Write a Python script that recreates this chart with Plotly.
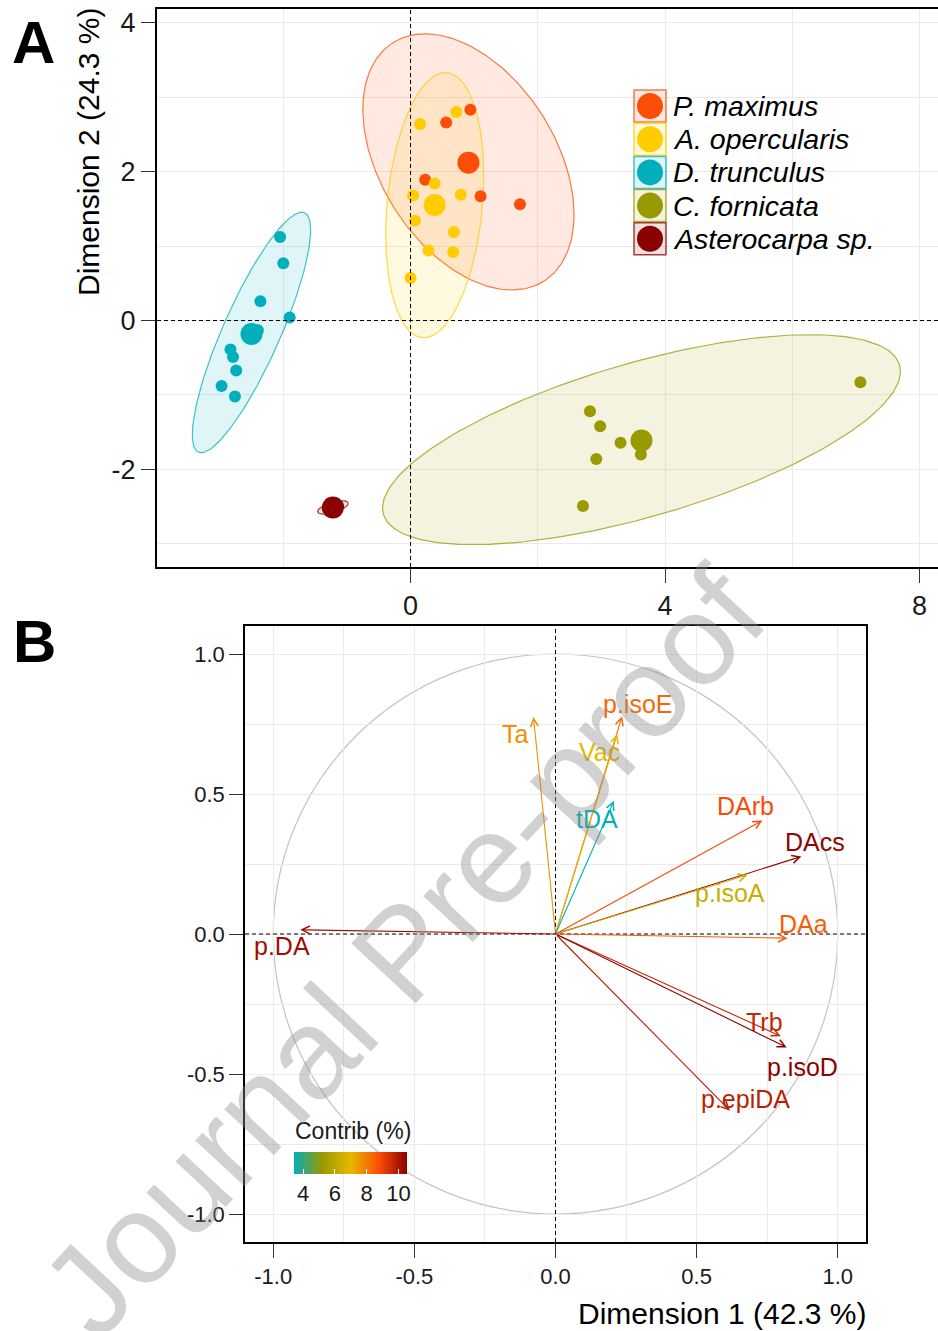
import numpy as np
import plotly.graph_objects as go
from plotly.colors import sample_colorscale

W, H = 938, 1331
FONT = "Liberation Sans, Arial, sans-serif"


def px(x):
    return x / W


def py(y):
    return 1 - y / H


# ---------------- Panel A data: individuals ----------------
groups = ["P. maximus", "A. opercularis", "D. trunculus", "C. fornicata", "Asterocarpa sp."]
group_colors = ["#FC4E07", "#FFCC00", "#00AFBB", "#999900", "#8B0000"]

pmax_x = [0.94, 0.56, 0.23, 1.10, 1.72]
pmax_y = [2.83, 2.66, 1.89, 1.67, 1.56]
aoper_x = [0.15, 0.72, 0.38, 0.04, 0.79, 0.07, 0.68, 0.28, 0.67, 0.00]
aoper_y = [2.64, 2.80, 1.84, 1.68, 1.69, 1.34, 1.19, 0.94, 0.92, 0.57]
dtrun_x = [-2.05, -2.00, -2.36, -1.90, -2.40, -2.83, -2.79, -2.74, -2.97, -2.76]
dtrun_y = [1.12, 0.77, 0.26, 0.04, -0.13, -0.39, -0.49, -0.67, -0.88, -1.02]
cforn_x = [2.82, 2.98, 3.30, 3.62, 2.92, 2.71, 7.07]
cforn_y = [-1.22, -1.42, -1.64, -1.80, -1.86, -2.49, -0.83]
aster_x = [-1.30, -1.25, -1.18, -1.14, -1.27, -1.20]
aster_y = [-2.52, -2.48, -2.50, -2.49, -2.56, -2.54]

centroid_x = [0.91, 0.38, -2.50, 3.63, -1.22]
centroid_y = [2.12, 1.55, -0.18, -1.61, -2.51]

# concentration ellipses: centre, x half-extent, y half-extent, correlation
ell_cx = [0.91, 0.38, -2.50, 3.63, -1.22]
ell_cy = [2.13, 1.55, -0.16, -1.60, -2.51]
ell_hw = [1.66, 0.77, 0.93, 4.07, 0.24]
ell_hh = [1.72, 1.78, 1.615, 1.41, 0.09]
ell_r = [-0.41, 0.22, 0.85, 0.65, 0.60]

A_xticks = [0, 4, 8]
A_yticks = [-2, 0, 2, 4]

# ---------------- Panel B data: variables ----------------
var_names = ["p.DA", "Ta", "p.isoE", "Vac", "tDA", "DArb", "DAcs", "p.isoA", "DAa", "Trb", "p.isoD", "p.epiDA"]
dim1 = [-0.904, -0.078, 0.236, 0.219, 0.207, 0.733, 0.871, 0.680, 0.822, 0.798, 0.819, 0.618]
dim2 = [0.015, 0.775, 0.778, 0.714, 0.476, 0.405, 0.277, 0.211, -0.015, -0.365, -0.405, -0.631]
contrib = [10.2, 7.6, 8.3, 7.0, 3.4, 8.8, 10.4, 6.3, 8.5, 9.6, 10.5, 9.8]

B_ticks = [-1.0, -0.5, 0.0, 0.5, 1.0]
B_ticktext = ["-1.0", "-0.5", "0.0", "0.5", "1.0"]
contrib_ticks = [4, 6, 8, 10]

# label offsets (pixels) from arrow tips
label_dx = [-18, -18, 15, -18, -17, -17, 14, -17, 16, -16, 16, 16]
label_dy = [-16, -17, 12, -18, -18, 15, 14, -18, 14, 14, -20, 12]

cscale = [[0, "#00AFBB"], [0.25, "#999900"], [0.5, "#E7B800"], [0.75, "#FC4E07"], [1, "#8B0000"]]


def rgba(hexc, a):
    hexc = hexc.lstrip("#")
    r, g, b = int(hexc[0:2], 16), int(hexc[2:4], 16), int(hexc[4:6], 16)
    return f"rgba({r},{g},{b},{a})"


fig = go.Figure()

# ellipses
t = np.linspace(0, 2 * np.pi, 241)
for i in range(len(groups)):
    ex = ell_cx[i] + ell_hw[i] * np.cos(t)
    ey = ell_cy[i] + ell_hh[i] * (ell_r[i] * np.cos(t) + np.sqrt(1 - ell_r[i] ** 2) * np.sin(t))
    fig.add_trace(go.Scatter(x=ex, y=ey, mode="lines", fill="toself",
                             fillcolor=rgba(group_colors[i], 0.12),
                             line=dict(color=rgba(group_colors[i], 0.75), width=1.2),
                             xaxis="x", yaxis="y", showlegend=False, hoverinfo="skip"))

ind_x = [pmax_x, aoper_x, dtrun_x, cforn_x, aster_x]
ind_y = [pmax_y, aoper_y, dtrun_y, cforn_y, aster_y]
for i in range(len(groups)):
    fig.add_trace(go.Scatter(x=ind_x[i], y=ind_y[i], mode="markers",
                             marker=dict(size=12, color=group_colors[i], line=dict(width=0)),
                             xaxis="x", yaxis="y", showlegend=False, name=groups[i]))
for i in range(len(groups)):
    fig.add_trace(go.Scatter(x=[centroid_x[i]], y=[centroid_y[i]], mode="markers",
                             marker=dict(size=22, color=group_colors[i], line=dict(width=0)),
                             xaxis="x", yaxis="y", showlegend=False, hoverinfo="skip"))

# colour bar carrier trace for panel B
cmin, cmax = min(contrib), max(contrib)
fig.add_trace(go.Scatter(
    x=dim1, y=dim2, mode="markers", xaxis="x2", yaxis="y2", showlegend=False, hoverinfo="skip",
    marker=dict(size=2, opacity=0, color=contrib, colorscale=cscale, cmin=cmin, cmax=cmax,
                showscale=True,
                colorbar=dict(orientation="h", x=px(350), xanchor="center", y=py(1152), yanchor="top",
                              len=113, lenmode="pixels", thickness=22, thicknessmode="pixels",
                              xpad=0, ypad=0, outlinewidth=0, tickvals=contrib_ticks,
                              ticks="inside", ticklen=5, tickcolor="white", tickwidth=1,
                              tickfont=dict(size=22, color="#1a1a1a", family=FONT)))))

arrow_colors = sample_colorscale(cscale, [(c - cmin) / (cmax - cmin) for c in contrib])

annotations = []
for i, name in enumerate(var_names):
    annotations.append(dict(x=dim1[i], y=dim2[i], xref="x2", yref="y2", ax=0, ay=0,
                            axref="x2", ayref="y2", text="", showarrow=True, arrowhead=5,
                            arrowsize=1.4, arrowwidth=1.1, arrowcolor=arrow_colors[i], standoff=0,
                            startstandoff=0))
    annotations.append(dict(x=dim1[i], y=dim2[i], xref="x2", yref="y2", text=name, showarrow=False,
                            xanchor="center", yanchor="middle",
                            xshift=label_dx[i], yshift=label_dy[i],
                            font=dict(size=25, color=arrow_colors[i], family=FONT)))

# manual legend for panel A
shapes = []
for i, g in enumerate(groups):
    cy = 106 + 33.2 * i
    shapes.append(dict(type="rect", xref="paper", yref="paper", x0=px(634), x1=px(666),
                       y0=py(cy + 16), y1=py(cy - 16), fillcolor=rgba(group_colors[i], 0.12),
                       line=dict(color=rgba(group_colors[i], 0.75), width=1.5), layer="above"))
    shapes.append(dict(type="circle", xref="paper", yref="paper", x0=px(650 - 13), x1=px(650 + 13),
                       y0=py(cy + 13), y1=py(cy - 13), fillcolor=group_colors[i],
                       line=dict(width=0), layer="above"))
    annotations.append(dict(x=px(671), y=py(cy), xref="paper", yref="paper", xanchor="left",
                            yanchor="middle", text=f"<i>{g}</i>", showarrow=False,
                            font=dict(size=28.5, color="black", family=FONT)))

# dashed reference lines
for xa, ya in (("x", "y"), ("x2", "y2")):
    shapes.append(dict(type="line", xref=xa, yref=ya + " domain", x0=0, x1=0, y0=0, y1=1,
                       line=dict(color="black", width=1, dash="4px,3px"), layer="above"))
    shapes.append(dict(type="line", xref=xa + " domain", yref=ya, x0=0, x1=1, y0=0, y1=0,
                       line=dict(color="black", width=1, dash="4px,3px"), layer="above"))

# correlation circle
shapes.append(dict(type="circle", xref="x2", yref="y2", x0=-1, x1=1, y0=-1, y1=1,
                   line=dict(color="#C4C4C4", width=1.2), layer="below"))


def txt(x, y, text, size, color="black", angle=0, xanchor="center"):
    return dict(x=px(x), y=py(y), xref="paper", yref="paper", text=text, textangle=angle,
                xanchor=xanchor, yanchor="middle", showarrow=False,
                font=dict(size=size, color=color, family=FONT))


annotations += [
    txt(88.5, 152.5, "Dimension 2 (24.3 %)", 30, angle=-90),
    txt(722, 1313, "Dimension 1 (42.3 %)", 30),
    txt(33.5, 42, "<b>A</b>", 60),
    txt(34, 641, "<b>B</b>", 60),
    txt(293, 1131, "Contrib (%)", 23, color="#1a1a1a", xanchor="left"),
    txt(402, 952, "Journal Pre-proof", 128, color="rgba(140,140,140,0.40)", angle=-47),
]

grid = "#EBEBEB"
axis_common = dict(showgrid=True, gridcolor=grid, gridwidth=1, zeroline=False, showline=True,
                   linecolor="black", ticks="outside", tickcolor="#333333", tickwidth=1.2)

fig.update_layout(
    width=W, height=H, margin=dict(l=0, r=0, t=0, b=0),
    paper_bgcolor="white", plot_bgcolor="white",
    font=dict(family=FONT, color="#1a1a1a"),
    showlegend=False,
    xaxis=dict(domain=[px(157), 1.0], range=[-3.985, 8.29], anchor="y", tickmode="array",
               tickvals=A_xticks, ticktext=[str(v) for v in A_xticks], linewidth=2, mirror=True,
               ticklen=14, tickfont=dict(size=27, color="#1a1a1a"),
               minor=dict(tickmode="linear", tick0=0, dtick=2, showgrid=True, gridcolor=grid, ticks=""),
               **axis_common),
    yaxis=dict(domain=[py(567), py(8.5)], range=[-3.31, 4.19], anchor="x", tickmode="array",
               tickvals=A_yticks, ticktext=[str(v) for v in A_yticks], linewidth=2, mirror=False,
               ticklen=14, tickfont=dict(size=27, color="#1a1a1a"),
               minor=dict(tickmode="linear", tick0=0, dtick=1, showgrid=True, gridcolor=grid, ticks=""),
               **axis_common),
    xaxis2=dict(domain=[px(245), px(866)], range=[-1.1, 1.1], anchor="y2", tickmode="array",
                tickvals=B_ticks, ticktext=B_ticktext, linewidth=1.5, mirror=True,
                ticklen=14, tickfont=dict(size=22, color="#1a1a1a"),
                minor=dict(tickmode="linear", tick0=0, dtick=0.25, showgrid=True, gridcolor=grid, ticks=""),
                **axis_common),
    yaxis2=dict(domain=[py(1242), py(626)], range=[-1.1, 1.1], anchor="x2", tickmode="array",
                tickvals=B_ticks, ticktext=B_ticktext, linewidth=1.5, mirror=True,
                ticklen=14, tickfont=dict(size=22, color="#1a1a1a"),
                minor=dict(tickmode="linear", tick0=0, dtick=0.25, showgrid=True, gridcolor=grid, ticks=""),
                **axis_common),
    shapes=shapes,
    annotations=annotations,
)

fig.write_html("out.html", config={"displayModeBar": False},
               post_script="document.body.style.margin='0';document.body.style.overflow='hidden';")
